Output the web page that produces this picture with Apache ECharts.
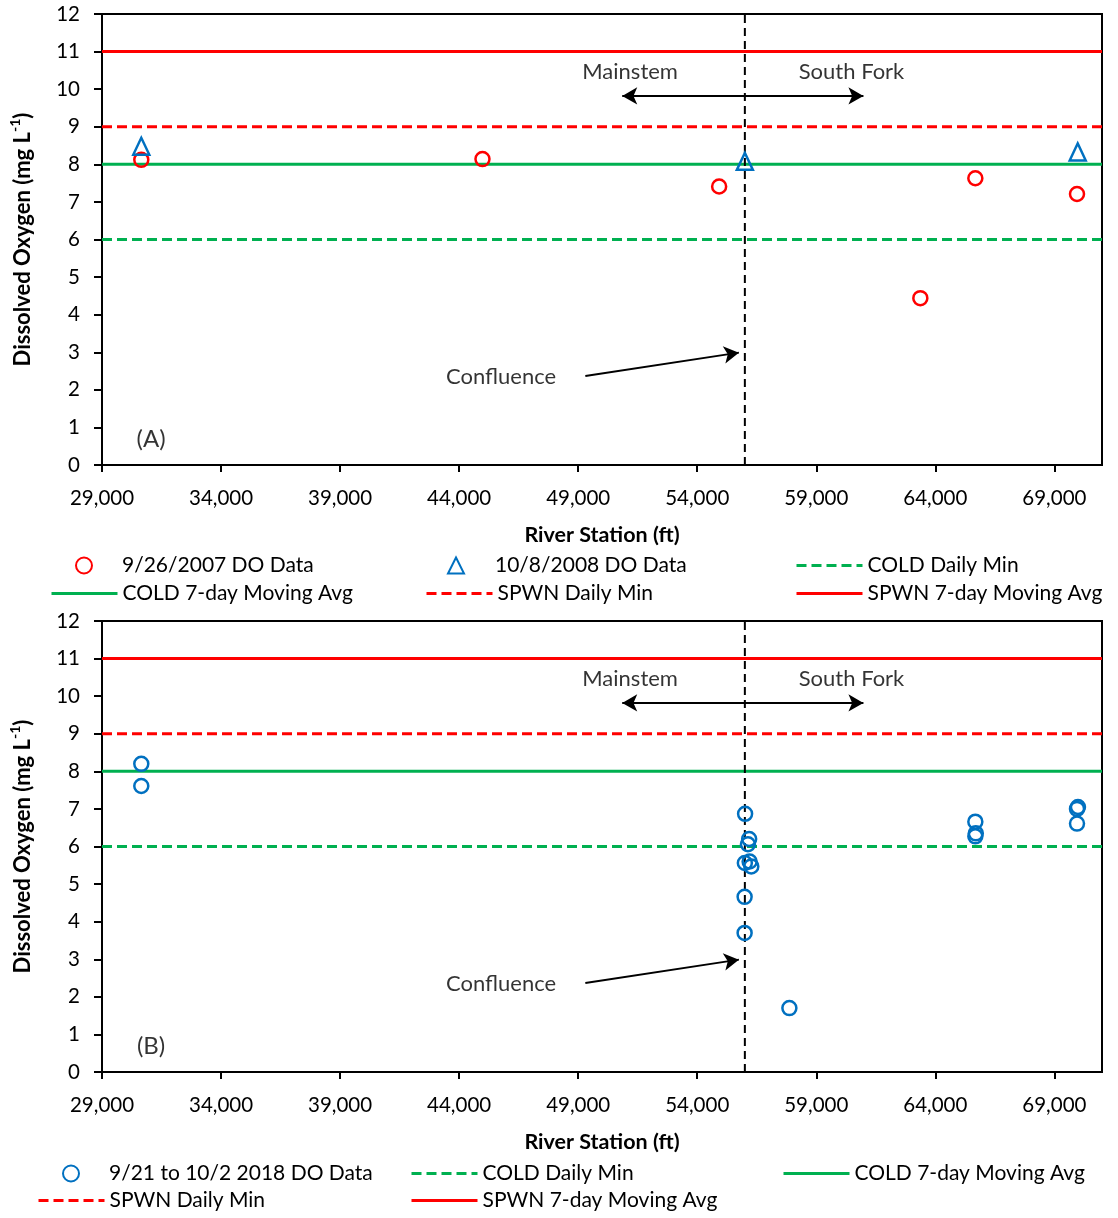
<!DOCTYPE html>
<html><head><meta charset="utf-8">
<script src="https://cdn.jsdelivr.net/npm/echarts@6/dist/echarts.min.js"></script>
<style>html,body{margin:0;padding:0;background:#fff}#c{width:1118px;height:1218px}</style>
</head><body><div id="c"></div>
<script>
// ---- axis scales ----
const xMin = 29000, xMax = 71000, xStep = 5000;
const yMin = 0, yMax = 12, yStep = 1;
const confluenceStation = 56000;

// ---- Panel A data ----
const do2007Name = '9/26/2007 DO Data';
const do2007X = [30650, 44980, 54920, 63370, 65680, 69950];
const do2007Y = [8.12, 8.14, 7.41, 4.44, 7.63, 7.21];
const do2008Name = '10/8/2008 DO Data';
const do2008X = [30650, 56000, 69980];
const do2008Y = [8.48, 8.08, 8.33];

// ---- Panel B data ----
const do2018Name = '9/21 to 10/2 2018 DO Data';
const do2018X = [30650, 30650, 56010, 56180, 56130, 56000, 56200, 56270, 55990, 55990, 57870, 65680, 65700, 65680, 69990, 69950, 69950];
const do2018Y = [8.2, 7.61, 6.87, 6.2, 6.06, 5.56, 5.6, 5.47, 4.66, 3.7, 1.7, 6.66, 6.35, 6.27, 7.05, 7.0, 6.61];

// ---- criteria lines ----
const limitNames = ['COLD Daily Min', 'COLD 7-day Moving Avg', 'SPWN Daily Min', 'SPWN 7-day Moving Avg'];
const limitValues = [6, 8, 9, 11];
const limitColors = ['#00B050', '#00B050', '#FF0000', '#FF0000'];
const limitDashed = [true, false, true, false];

// ---- annotation text ----
const annotTexts = ['Mainstem', 'South Fork', 'Confluence'];
const panelTags = ['(A)', '(B)'];

const FONT = 'Lato';
const TICK_FS = 20.5, LEG_FS = 21, ANN_FS = 22, TAG_FS = 24, TITLE_FS = 21.5;
const zip = (xs, ys) => xs.map((x, i) => [x, ys[i]]);

function gridSeries(gi, tag) {
  const out = [];
  limitNames.forEach((n, i) => {
    out.push({
      name: n, type: 'line', xAxisIndex: gi, yAxisIndex: gi, symbol: 'none', z: 2, silent: true,
      data: [[xMin, limitValues[i]], [xMax, limitValues[i]]],
      lineStyle: { color: limitColors[i], width: 3, type: limitDashed[i] ? [10, 5] : 'solid' },
      itemStyle: { color: limitColors[i] }
    });
  });
  out.push({
    name: 'confluence' + gi, type: 'line', xAxisIndex: gi, yAxisIndex: gi, symbol: 'none', z: 4, silent: true,
    data: [[confluenceStation, yMin], [confluenceStation, yMax]],
    lineStyle: { color: '#000', width: 2, type: [8, 5] }
  });
  out.push({
    name: 'annot' + gi, type: 'scatter', xAxisIndex: gi, yAxisIndex: gi, symbolSize: 0, z: 6, silent: true,
    data: [
      { value: [51180, 10.46], label: { formatter: annotTexts[0] } },
      { value: [60480, 10.46], label: { formatter: annotTexts[1] } },
      { value: [45760, 2.34], label: { formatter: annotTexts[2] } },
      { value: [31060, 0.68], label: { formatter: tag, fontSize: TAG_FS } }
    ],
    label: { show: true, position: 'inside', color: '#000', fontFamily: FONT, fontSize: ANN_FS },
    markLine: {
      silent: true, symbolSize: [13, 15],
      lineStyle: { color: '#000', width: 2, type: 'solid' },
      label: { show: false },
      data: [
        [{ coord: [50850, 9.82], symbol: 'arrow' }, { coord: [60980, 9.82], symbol: 'arrow' }],
        [{ coord: [49300, 2.37], symbol: 'none' }, { coord: [55750, 2.99], symbol: 'arrow' }]
      ]
    }
  });
  return out;
}

function markerSeries(name, gi, xs, ys, color, sym, size) {
  return {
    name, type: 'scatter', xAxisIndex: gi, yAxisIndex: gi, z: 5, symbol: sym, symbolSize: size,
    data: zip(xs, ys),
    itemStyle: { color: 'rgba(255,255,255,0)', borderColor: color, borderWidth: 2.5, opacity: 1 }
  };
}

const series = [
  markerSeries(do2007Name, 0, do2007X, do2007Y, '#FF0000', 'circle', 14),
  markerSeries(do2008Name, 0, do2008X, do2008Y, '#0070C0', 'triangle', [16, 17]),
  ...gridSeries(0, panelTags[0]),
  markerSeries(do2018Name, 1, do2018X, do2018Y, '#0070C0', 'circle', 14),
  ...gridSeries(1, panelTags[1])
];

function xAxis(gi) {
  return {
    type: 'value', gridIndex: gi, min: xMin, max: xMax, interval: xStep,
    name: 'River Station (ft)', nameLocation: 'middle', nameGap: 59,
    nameTextStyle: { fontFamily: FONT, fontSize: TITLE_FS, fontWeight: 'bold', color: '#000' },
    axisLine: { lineStyle: { color: '#000', width: 2 } },
    axisTick: { show: true, length: 7, lineStyle: { color: '#000', width: 2 } },
    axisLabel: { showMaxLabel: false, color: '#000', fontFamily: FONT, fontSize: TICK_FS, margin: 23,
      formatter: v => v.toLocaleString('en-US') },
    splitLine: { show: false }
  };
}
function yAxis(gi) {
  return {
    type: 'value', gridIndex: gi, min: yMin, max: yMax, interval: yStep,
    name: '{a|Dissolved Oxygen (mg L}{s|-1}{a|)}', nameLocation: 'middle', nameGap: 68,
    nameTextStyle: { fontFamily: FONT, fontSize: TITLE_FS, fontWeight: 'bold', color: '#000',
      rich: {
        a: { fontFamily: FONT, fontSize: 22, fontWeight: 'bold', color: '#000', lineHeight: 26, verticalAlign: 'bottom' },
        s: { fontFamily: FONT, fontSize: 14, fontWeight: 'bold', color: '#000', lineHeight: 26, verticalAlign: 'top' }
      } },
    axisLine: { lineStyle: { color: '#000', width: 2 } },
    axisTick: { show: true, length: 8, lineStyle: { color: '#000', width: 2 } },
    axisLabel: { color: '#000', fontFamily: FONT, fontSize: TICK_FS, margin: 22 },
    splitLine: { show: false }
  };
}

// line-series legend entry (no symbol)
function legLine(name, left, top) {
  return {
    data: [name], left, top, itemWidth: 66, itemHeight: 16, selectedMode: false, padding: 0,
    itemStyle: { color: 'rgba(0,0,0,0)', borderColor: 'rgba(0,0,0,0)', borderWidth: 0, opacity: 0 },
    lineStyle: { width: 3 },
    textStyle: { fontFamily: FONT, fontSize: LEG_FS, color: '#000' }
  };
}
// marker legend entry
function legMark(name, center, textLeft, top, w, h) {
  const left = center - w / 2;
  return {
    data: [name], left, top, itemWidth: w, itemHeight: h, selectedMode: false, padding: 0,
    textStyle: { fontFamily: FONT, fontSize: LEG_FS, color: '#000', padding: [0, 0, 0, textLeft - (left + w + 5)] }
  };
}

const option = {
  backgroundColor: '#fff',
  animation: false,
  textStyle: { fontFamily: FONT },
  grid: [
    { left: 101, top: 14, width: 1001, height: 451, show: true, borderColor: '#000', borderWidth: 2, backgroundColor: 'transparent' },
    { left: 101, top: 621, width: 1001, height: 451, show: true, borderColor: '#000', borderWidth: 2, backgroundColor: 'transparent' }
  ],
  xAxis: [xAxis(0), xAxis(1)],
  yAxis: [yAxis(0), yAxis(1)],
  legend: [
    legMark(do2007Name, 83, 121, 555, 16, 16), legMark(do2008Name, 455, 494, 555, 16, 16), legLine(limitNames[0], 795, 555),
    legLine(limitNames[1], 50, 583), legLine(limitNames[2], 425, 583), legLine(limitNames[3], 795, 583),
    legMark(do2018Name, 70, 108, 1163, 16, 16), legLine(limitNames[0], 410, 1163), legLine(limitNames[1], 782, 1163),
    legLine(limitNames[2], 37, 1190), legLine(limitNames[3], 410, 1190)
  ],
  series
};

const chart = echarts.init(document.getElementById('c'), null, { renderer: 'canvas' });
chart.setOption(option);
</script>
</body></html>
